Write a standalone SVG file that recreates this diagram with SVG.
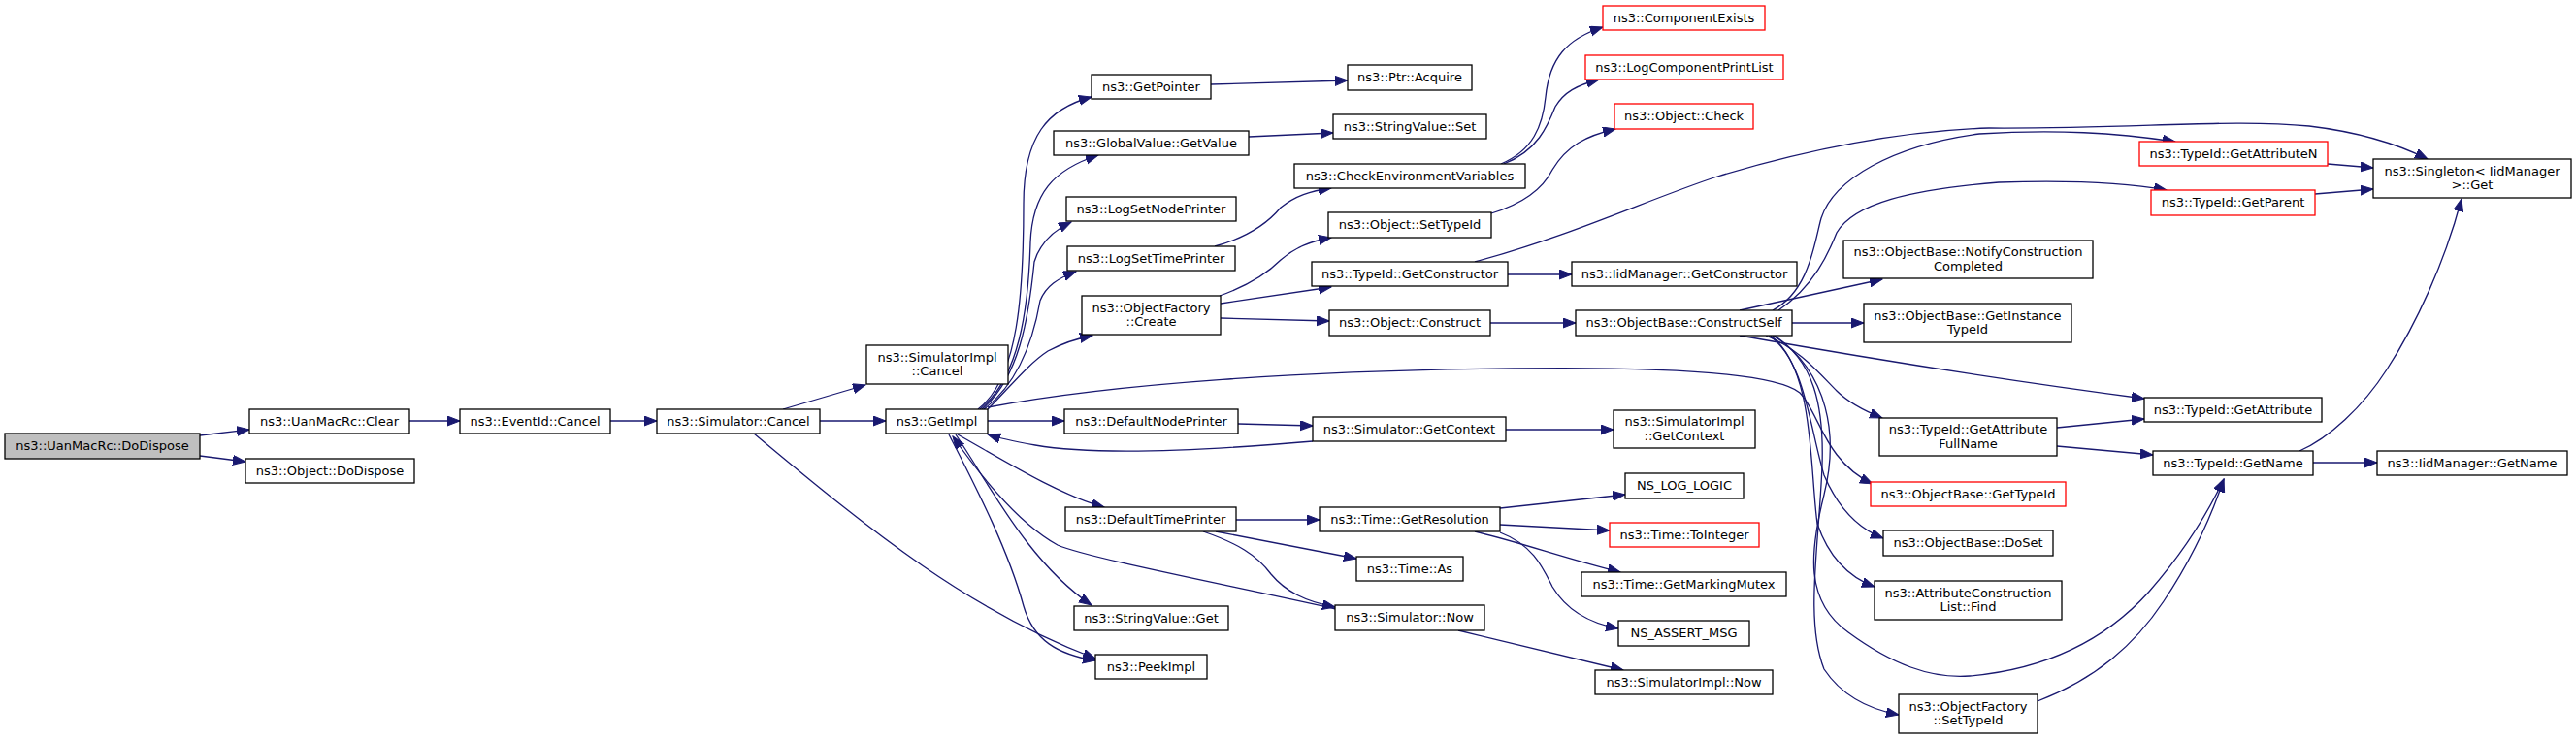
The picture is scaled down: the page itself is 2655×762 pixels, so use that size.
<svg xmlns="http://www.w3.org/2000/svg" width="2655" height="762" viewBox="0 0 2655 762">
<style>
.n rect{fill:#fff;stroke:#000;stroke-width:1.3}
.n.r rect{stroke:#ff0000}
.n.g rect{fill:#bfbfbf}
.n text{font-family:"DejaVu Sans","Liberation Sans",sans-serif;font-size:13px;text-anchor:middle;fill:#000}
#edges path{fill:none;stroke:#191970;stroke-width:1.3;marker-end:url(#a)}
</style>
<defs>
<marker id="a" markerWidth="14" markerHeight="11" refX="13" refY="5" orient="auto" markerUnits="userSpaceOnUse">
<path d="M0,0 L13,5 L0,10 z" fill="#191970" stroke="#191970" stroke-width="1"/>
</marker>
</defs>
<rect width="2655" height="762" fill="#fff"/>
<g id="edges">
<path d="M206,449 L257,443"/>
<path d="M206,470 L253,476"/>
<path d="M422,434 L474,434"/>
<path d="M629,434 L677,434"/>
<path d="M807,422 L892,397"/>
<path d="M845,434 L913,434"/>
<path d="M777,447 C900,550 1000,630 1129,679"/>
<path d="M1008,422 C1050,390 1055,300 1055,210 C1055,140 1080,112 1125,100"/>
<path d="M1010,422 C1050,390 1060,320 1062,250 C1064,200 1085,175 1132,160"/>
<path d="M1012,422 C1050,390 1060,330 1066,270 C1072,250 1085,238 1104,229"/>
<path d="M1014,422 C1050,395 1065,350 1072,310 C1078,295 1090,287 1109,280"/>
<path d="M1018,422 C1040,400 1060,375 1080,362 C1095,354 1110,349 1126,346"/>
<path d="M1018,420 C1150,395 1350,382 1560,380 C1720,378 1830,385 1855,405 C1875,425 1880,475 1930,499"/>
<path d="M1018,434 L1097,434"/>
<path d="M987,448 C1030,472 1090,510 1138,523"/>
<path d="M985,448 C1020,500 1060,580 1125,624"/>
<path d="M1377,628 C1250,600 1120,575 1090,562 C1050,540 1010,490 982,450"/>
<path d="M978,448 C1010,510 1040,570 1055,625 C1065,660 1090,675 1129,681"/>
<path d="M1276,437 L1353,439"/>
<path d="M1353,455 C1250,464 1130,470 1067,459 C1045,455 1030,452 1018,448"/>
<path d="M1552,443 L1663,443"/>
<path d="M1274,536 L1360,536"/>
<path d="M1253,548 L1398,576"/>
<path d="M1240,548 C1275,560 1295,572 1310,592 C1325,610 1345,620 1376,626"/>
<path d="M1546,524 L1675,510"/>
<path d="M1546,541 L1659,547"/>
<path d="M1520,548 C1570,560 1610,575 1670,590"/>
<path d="M1546,549 C1580,562 1590,585 1600,605 C1615,630 1640,643 1668,648"/>
<path d="M1503,650 L1673,691"/>
<path d="M1248,87 L1389,83"/>
<path d="M1287,141 L1374,137"/>
<path d="M1252,254 C1285,245 1305,232 1320,214 C1335,202 1350,197 1372,194"/>
<path d="M1257,305 C1285,295 1305,283 1320,268 C1335,255 1350,249 1372,245"/>
<path d="M1258,313 L1372,296"/>
<path d="M1258,328 L1370,331"/>
<path d="M1547,169 C1580,155 1590,130 1593,100 C1597,60 1615,40 1652,28"/>
<path d="M1550,169 C1585,155 1595,130 1603,110 C1612,95 1625,88 1648,82"/>
<path d="M1537,220 C1570,210 1590,195 1600,175 C1615,150 1635,140 1665,133"/>
<path d="M1520,270 C1620,243 1700,205 1770,182 C1860,155 1960,135 2050,132 C2200,133 2300,122 2380,130 C2430,136 2470,148 2502,164"/>
<path d="M1554,283 L1620,283"/>
<path d="M1536,333 L1624,333"/>
<path d="M1827,320 C1865,300 1870,250 1877,225 C1890,185 1950,150 2040,138 C2120,133 2180,137 2242,146"/>
<path d="M1833,320 C1870,295 1885,260 1893,240 C1910,210 1970,195 2060,188 C2150,185 2200,190 2233,196"/>
<path d="M1793,320 L1940,288"/>
<path d="M1847,333 L1921,333"/>
<path d="M1793,346 C1900,365 2050,390 2210,411"/>
<path d="M1820,346 C1855,360 1875,385 1893,403 C1905,415 1920,423 1940,431"/>
<path d="M1823,346 C1860,370 1865,440 1880,490 C1895,525 1915,545 1941,555"/>
<path d="M1825,346 C1870,380 1865,480 1873,540 C1885,575 1905,595 1932,605"/>
<path d="M1827,346 C1870,370 1880,420 1878,480 C1875,560 1860,640 1880,690 C1900,720 1930,732 1957,737"/>
<path d="M1829,346 C1885,385 1895,450 1880,510 C1865,570 1860,620 1905,652 C1950,685 1990,700 2030,697 C2110,690 2170,660 2215,610 C2250,570 2275,530 2292,494"/>
<path d="M2100,723 C2160,700 2200,665 2230,620 C2260,575 2280,530 2292,494"/>
<path d="M2120,441 L2210,432"/>
<path d="M2120,460 L2219,469"/>
<path d="M2399,169 L2446,173"/>
<path d="M2386,200 L2446,195"/>
<path d="M2370,465 C2400,452 2435,420 2460,381 C2490,335 2520,270 2537,205"/>
<path d="M2384,477 L2450,477"/>
</g>
<g id="n0" class="n g"><rect x="5" y="447" width="201" height="26"/><text x="105.5" y="464">ns3::UanMacRc::DoDispose</text></g>
<g id="n1" class="n"><rect x="257" y="422" width="165" height="25"/><text x="339.5" y="439">ns3::UanMacRc::Clear</text></g>
<g id="n2" class="n"><rect x="253" y="473" width="174" height="25"/><text x="340" y="490">ns3::Object::DoDispose</text></g>
<g id="n3" class="n"><rect x="474" y="422" width="155" height="25"/><text x="551.5" y="439">ns3::EventId::Cancel</text></g>
<g id="n4" class="n"><rect x="677" y="422" width="168" height="25"/><text x="761" y="439">ns3::Simulator::Cancel</text></g>
<g id="n5" class="n"><rect x="893" y="356" width="146" height="40"/><text x="966" y="373">ns3::SimulatorImpl</text><text x="966" y="387">::Cancel</text></g>
<g id="n6" class="n"><rect x="913" y="422" width="105" height="25"/><text x="965.5" y="439">ns3::GetImpl</text></g>
<g id="n7" class="n"><rect x="1129" y="675" width="115" height="25"/><text x="1186.5" y="692">ns3::PeekImpl</text></g>
<g id="n8" class="n"><rect x="1125" y="77" width="123" height="25"/><text x="1186.5" y="94">ns3::GetPointer</text></g>
<g id="n9" class="n"><rect x="1086" y="135" width="201" height="25"/><text x="1186.5" y="152">ns3::GlobalValue::GetValue</text></g>
<g id="n10" class="n"><rect x="1099" y="203" width="175" height="25"/><text x="1186.5" y="220">ns3::LogSetNodePrinter</text></g>
<g id="n11" class="n"><rect x="1100" y="254" width="173" height="25"/><text x="1186.5" y="271">ns3::LogSetTimePrinter</text></g>
<g id="n12" class="n"><rect x="1115" y="305" width="143" height="40"/><text x="1186.5" y="322">ns3::ObjectFactory</text><text x="1186.5" y="336">::Create</text></g>
<g id="n13" class="n"><rect x="1097" y="422" width="179" height="25"/><text x="1186.5" y="439">ns3::DefaultNodePrinter</text></g>
<g id="n14" class="n"><rect x="1098" y="523" width="176" height="25"/><text x="1186" y="540">ns3::DefaultTimePrinter</text></g>
<g id="n15" class="n"><rect x="1107" y="625" width="159" height="25"/><text x="1186.5" y="642">ns3::StringValue::Get</text></g>
<g id="n16" class="n"><rect x="1389" y="67" width="128" height="26"/><text x="1453" y="84">ns3::Ptr::Acquire</text></g>
<g id="n17" class="n"><rect x="1374" y="118" width="158" height="25"/><text x="1453" y="135">ns3::StringValue::Set</text></g>
<g id="n18" class="n"><rect x="1334" y="169" width="238" height="25"/><text x="1453" y="186">ns3::CheckEnvironmentVariables</text></g>
<g id="n19" class="n"><rect x="1369" y="219" width="168" height="26"/><text x="1453" y="236">ns3::Object::SetTypeId</text></g>
<g id="n20" class="n"><rect x="1352" y="270" width="202" height="25"/><text x="1453" y="287">ns3::TypeId::GetConstructor</text></g>
<g id="n21" class="n"><rect x="1370" y="320" width="166" height="26"/><text x="1453" y="337">ns3::Object::Construct</text></g>
<g id="n22" class="n"><rect x="1353" y="430" width="199" height="25"/><text x="1452.5" y="447">ns3::Simulator::GetContext</text></g>
<g id="n23" class="n"><rect x="1360" y="523" width="186" height="25"/><text x="1453" y="540">ns3::Time::GetResolution</text></g>
<g id="n24" class="n"><rect x="1398" y="574" width="110" height="25"/><text x="1453" y="591">ns3::Time::As</text></g>
<g id="n25" class="n"><rect x="1376" y="624" width="154" height="26"/><text x="1453" y="641">ns3::Simulator::Now</text></g>
<g id="n26" class="n r"><rect x="1652" y="6" width="167" height="25"/><text x="1735.5" y="23">ns3::ComponentExists</text></g>
<g id="n27" class="n r"><rect x="1634" y="57" width="204" height="25"/><text x="1736" y="74">ns3::LogComponentPrintList</text></g>
<g id="n28" class="n r"><rect x="1664" y="107" width="143" height="26"/><text x="1735.5" y="124">ns3::Object::Check</text></g>
<g id="n29" class="n"><rect x="1620" y="270" width="232" height="25"/><text x="1736" y="287">ns3::IidManager::GetConstructor</text></g>
<g id="n30" class="n"><rect x="1624" y="320" width="223" height="26"/><text x="1735.5" y="337">ns3::ObjectBase::ConstructSelf</text></g>
<g id="n31" class="n"><rect x="1663" y="423" width="146" height="39"/><text x="1736" y="439">ns3::SimulatorImpl</text><text x="1736" y="454">::GetContext</text></g>
<g id="n32" class="n"><rect x="1675" y="488" width="122" height="26"/><text x="1736" y="505">NS_LOG_LOGIC</text></g>
<g id="n33" class="n r"><rect x="1659" y="539" width="154" height="25"/><text x="1736" y="556">ns3::Time::ToInteger</text></g>
<g id="n34" class="n"><rect x="1630" y="590" width="211" height="25"/><text x="1735.5" y="607">ns3::Time::GetMarkingMutex</text></g>
<g id="n35" class="n"><rect x="1668" y="640" width="135" height="26"/><text x="1735.5" y="657">NS_ASSERT_MSG</text></g>
<g id="n36" class="n"><rect x="1644" y="691" width="183" height="25"/><text x="1735.5" y="708">ns3::SimulatorImpl::Now</text></g>
<g id="n37" class="n"><rect x="1900" y="248" width="257" height="39"/><text x="2028.5" y="264">ns3::ObjectBase::NotifyConstruction</text><text x="2028.5" y="279">Completed</text></g>
<g id="n38" class="n"><rect x="1921" y="313" width="214" height="40"/><text x="2028" y="330">ns3::ObjectBase::GetInstance</text><text x="2028" y="344">TypeId</text></g>
<g id="n39" class="n"><rect x="1937" y="431" width="183" height="39"/><text x="2028.5" y="447">ns3::TypeId::GetAttribute</text><text x="2028.5" y="462">FullName</text></g>
<g id="n40" class="n r"><rect x="1928" y="497" width="201" height="25"/><text x="2028.5" y="514">ns3::ObjectBase::GetTypeId</text></g>
<g id="n41" class="n"><rect x="1941" y="547" width="175" height="26"/><text x="2028.5" y="564">ns3::ObjectBase::DoSet</text></g>
<g id="n42" class="n"><rect x="1932" y="599" width="193" height="40"/><text x="2028.5" y="616">ns3::AttributeConstruction</text><text x="2028.5" y="630">List::Find</text></g>
<g id="n43" class="n"><rect x="1957" y="716" width="143" height="40"/><text x="2028.5" y="733">ns3::ObjectFactory</text><text x="2028.5" y="747">::SetTypeId</text></g>
<g id="n44" class="n r"><rect x="2205" y="146" width="194" height="25"/><text x="2302" y="163">ns3::TypeId::GetAttributeN</text></g>
<g id="n45" class="n r"><rect x="2217" y="196" width="169" height="26"/><text x="2301.5" y="213">ns3::TypeId::GetParent</text></g>
<g id="n46" class="n"><rect x="2446" y="164" width="204" height="40"/><text x="2548" y="181">ns3::Singleton&lt; IidManager</text><text x="2548" y="195">&gt;::Get</text></g>
<g id="n47" class="n"><rect x="2210" y="410" width="183" height="25"/><text x="2301.5" y="427">ns3::TypeId::GetAttribute</text></g>
<g id="n48" class="n"><rect x="2219" y="465" width="165" height="25"/><text x="2301.5" y="482">ns3::TypeId::GetName</text></g>
<g id="n49" class="n"><rect x="2450" y="465" width="196" height="25"/><text x="2548" y="482">ns3::IidManager::GetName</text></g>
</svg>
